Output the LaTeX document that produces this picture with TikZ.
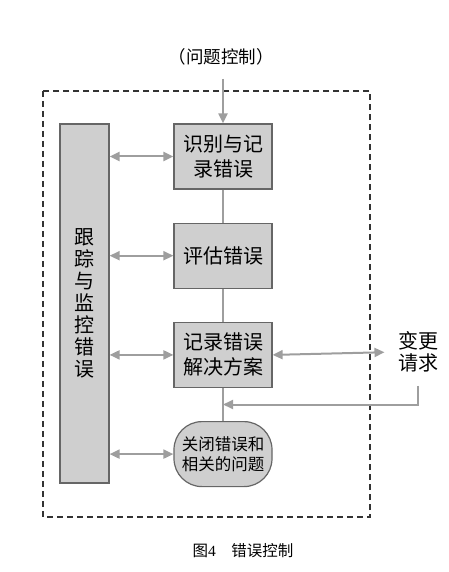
\documentclass[tikz,border=0pt]{standalone}
\usepackage{fontspec}
\setmainfont{Noto Sans CJK SC}
\newfontfamily\capdigit{Liberation Serif}
\usetikzlibrary{arrows.meta,positioning,calc}
\definecolor{boxgray}{HTML}{CFCFCF}
\definecolor{linegray}{HTML}{9E9E9E}
\definecolor{edgegray}{HTML}{666666}

\begin{document}
\begin{tikzpicture}[
  x=1pt,y=-1pt,
  node distance=33pt,
  every node/.style={font=\fontsize{20}{25}\selectfont,text=black},
  box/.style={draw=edgegray,fill=boxgray,line width=1.2pt,align=center,minimum width=98pt,minimum height=65pt,inner sep=0pt},
  endbox/.style={box,rounded corners=28pt,font=\fontsize{16.5}{20}\selectfont},
  arr/.style={-{Triangle[length=10pt,width=9pt]},draw=linegray,line width=2pt},
  dbl/.style={arr,{Triangle[length=10pt,width=9pt]}-{Triangle[length=10pt,width=9pt]}},
  link/.style={draw=linegray,line width=2pt}
]
\useasboundingbox (0,0) rectangle (449,572);
% frame
\draw[dash pattern=on 6pt off 4pt,line width=1.2pt,draw=black!80] (43,91) rectangle (370,517);
% main steps
\node[box] (idf) at (223,156.5) {识别与记\\录错误};
\node[box,below=of idf] (eva) {评估错误};
\node[box,below=of eva] (sol) {记录错误\\解决方案};
\node[endbox,below=of sol] (cls) {关闭错误和\\相关的问题};
\node[box,minimum width=49pt,minimum height=359pt,font=\fontsize{20}{22}\selectfont] (trk) at (84.5,303.5) {跟\\踪\\与\\监\\控\\错\\误};
% outside texts
\node[font=\fontsize{17.5}{20}\selectfont] (ctl) at (221,57) {（问题控制）};
\node[align=center,font=\fontsize{20}{22}\selectfont] (req) at (418,352) {变更\\请求};
\node[font=\fontsize{15.5}{18}\selectfont] (cap) at (243,551) {图{\capdigit 4}\hspace{1em}错误控制};
\coordinate (fb) at ($(sol.south)!0.5!(cls.north)$);
\draw[arr,shorten <=10pt] (idf.north |- ctl.south) -- (idf.north);
\draw[link] (idf) -- (eva);
\draw[link] (eva) -- (sol);
\draw[link] (sol) -- (cls);
\draw[dbl] (trk.east |- idf) -- (idf.west);
\draw[dbl] (trk.east |- eva) -- (eva.west);
\draw[dbl] (trk.east |- sol) -- (sol.west);
\draw[dbl] (trk.east |- cls) -- (cls.west);
\draw[dbl,shorten >=10pt] (sol.east) -- (req.west);
\draw[arr,shorten <=10pt] (req.south) |- (fb);
\end{tikzpicture}
\end{document}
